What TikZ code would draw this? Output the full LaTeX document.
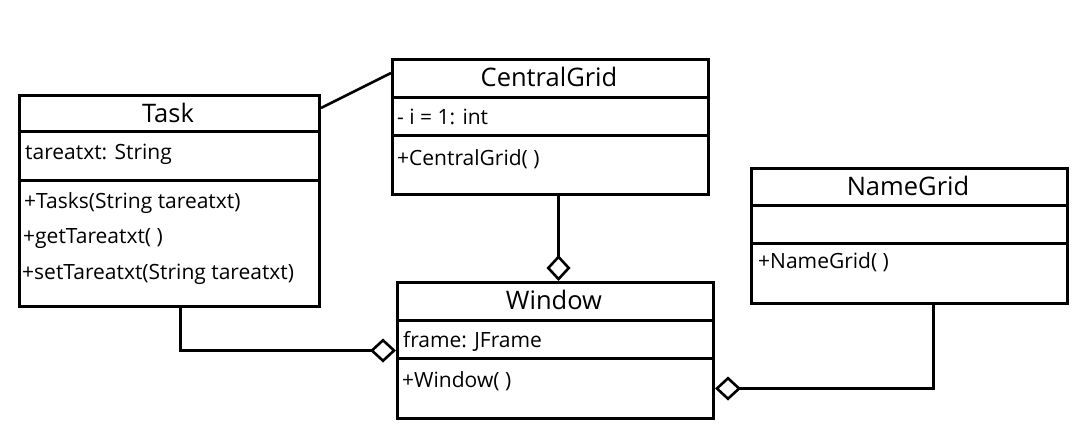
\documentclass[tikz,border=0pt]{standalone}
\usepackage{fontspec}
\setmainfont{Open Sans}
\usetikzlibrary{arrows.meta}

\begin{document}
\begin{tikzpicture}[
        x=1pt, y=-1pt,
        classbox/.style={rectangle, draw=black, line width=3pt, inner sep=0pt, anchor=north west},
        classtitle/.style={inner sep=0pt, anchor=base, font=\fontsize{25.5}{30}\selectfont},
        member/.style={inner sep=0pt, anchor=base west, font=\fontsize{21}{25}\selectfont},
        divider/.style={line width=3pt},
        link/.style={line width=2.6pt},
        agg/.style={link, -{Diamond[open, length=26pt, width=24pt]}}
    ]

    \useasboundingbox (0,0) rectangle (1081,445);

    % Task class
    \node[classbox, minimum width=300pt, minimum height=211pt] (task) at (18,94) {};
    \draw[divider] (18,131) -- (318,131);
    \draw[divider] (18,180) -- (318,180);
    \node[classtitle] (taskT) at (168,122) {Task};
    \node[member] (taskA1) at (25,159) {tareatxt: String};
    \node[member] (taskM1) at (24,208) {+Tasks(String tareatxt)};
    \node[member] (taskM2) at (23,243) {+getTareatxt( )};
    \node[member] (taskM3) at (22,279) {+setTareatxt(String tareatxt)};

    % CentralGrid class
    \node[classbox, minimum width=316pt, minimum height=135pt] (cgrid) at (391,58) {};
    \draw[divider] (391,97) -- (707,97);
    \draw[divider] (391,135) -- (707,135);
    \node[classtitle] (cgridT) at (549,86) {CentralGrid};
    \node[member] (cgridA1) at (397,124) {- i = 1: int};
    \node[member] (cgridM1) at (397,165) {+CentralGrid( )};

    % Window class
    \node[classbox, minimum width=316pt, minimum height=136pt] (win) at (396,281) {};
    \draw[divider] (396,320) -- (712,320);
    \draw[divider] (396,358) -- (712,358);
    \node[classtitle] (winT) at (554,309) {Window};
    \node[member] (winA1) at (403,347) {frame: JFrame};
    \node[member] (winM1) at (402,387) {+Window( )};

    % NameGrid class
    \node[classbox, minimum width=316pt, minimum height=135pt] (ngrid) at (750,167) {};
    \draw[divider] (750,205) -- (1066,205);
    \draw[divider] (750,243) -- (1066,243);
    \node[classtitle] (ngridT) at (908,195) {NameGrid};
    \node[member] (ngridM1) at (758,268) {+NameGrid( )};

    % Associations
    \draw[link] ([yshift=-14pt]task.north east) -- ([yshift=-15pt]cgrid.north west);
    \draw[agg] ([xshift=3pt]win.north |- cgrid.south) -- ([xshift=3pt]win.north);
    \draw[agg] ([xshift=11pt]task.south) |- (win.west);
    \draw[agg] ([xshift=24pt]ngrid.south) |- ([yshift=-38pt]win.east);

\end{tikzpicture}
\end{document}
